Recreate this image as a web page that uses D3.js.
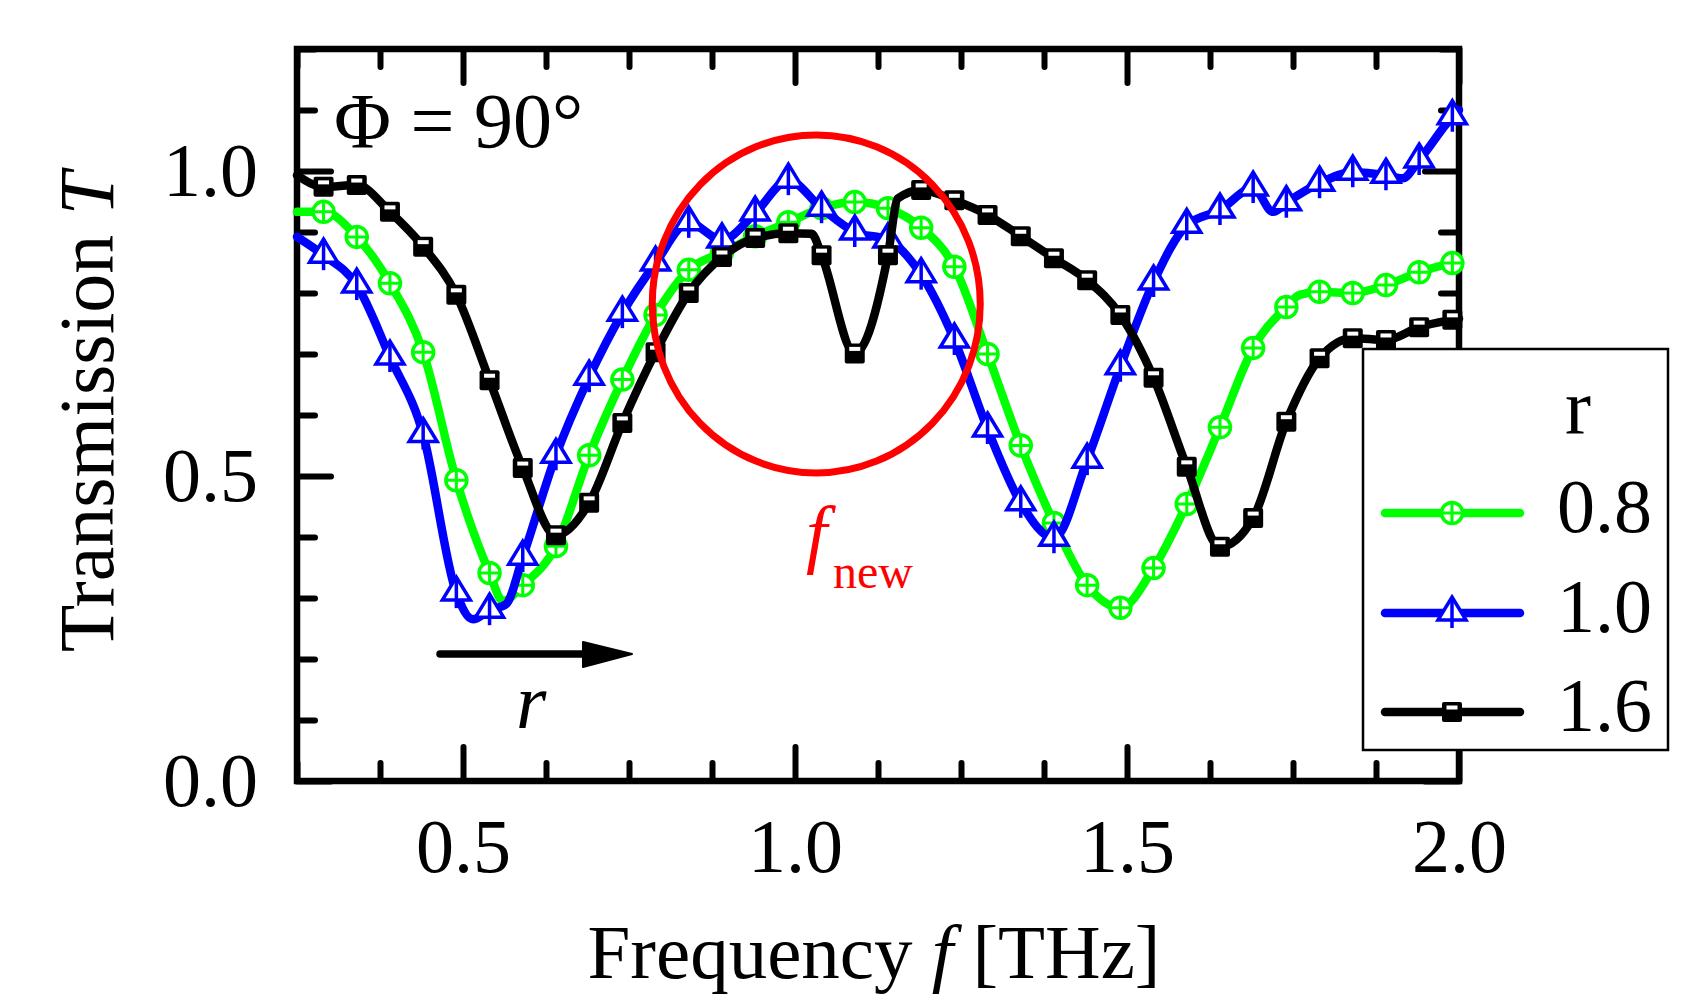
<!DOCTYPE html>
<html>
<head>
<meta charset="utf-8">
<script src="https://cdn.jsdelivr.net/npm/d3@7"></script>
<style>
  body { margin: 0; background: #fff; }
  text { font-family: "Liberation Serif", "Times New Roman", serif; fill: #000; }
</style>
</head>
<body>
<div id="chart"></div>
<script>
// marker frequencies (THz)
var freq = [0.29, 0.34, 0.39, 0.44, 0.49, 0.54, 0.59, 0.64, 0.69, 0.74, 0.79, 0.84,
            0.89, 0.94, 0.99, 1.04, 1.09, 1.14, 1.19, 1.24, 1.29, 1.34, 1.39, 1.44,
            1.49, 1.54, 1.59, 1.64, 1.69, 1.74, 1.79, 1.84, 1.89, 1.94, 1.99];

// transmission, r = 0.8
var tGreen = [0.933, 0.892, 0.816, 0.703, 0.493, 0.341, 0.321, 0.385, 0.534, 0.658, 0.764, 0.838,
              0.866, 0.893, 0.916, 0.939, 0.949, 0.939, 0.907, 0.843, 0.700, 0.550, 0.423, 0.321,
              0.284, 0.349, 0.454, 0.580, 0.710, 0.777, 0.802, 0.800, 0.813, 0.834, 0.849];
// transmission, r = 1.0
var tBlue = [0.862, 0.813, 0.695, 0.568, 0.308, 0.280, 0.367, 0.534, 0.662, 0.767, 0.849, 0.915,
             0.887, 0.931, 0.985, 0.939, 0.900, 0.887, 0.830, 0.723, 0.577, 0.456, 0.398, 0.526,
             0.679, 0.818, 0.911, 0.936, 0.972, 0.948, 0.980, 0.998, 0.993, 1.018, 1.089];
// transmission, r = 1.6
var tBlack = [0.974, 0.977, 0.933, 0.876, 0.797, 0.657, 0.513, 0.403, 0.456, 0.587, 0.703, 0.800,
              0.859, 0.890, 0.898, 0.862, 0.701, 0.862, 0.969, 0.952, 0.928, 0.893, 0.857, 0.821,
              0.764, 0.661, 0.515, 0.384, 0.431, 0.589, 0.693, 0.726, 0.723, 0.744, 0.756];

// line points between the markers
var extraGreen = [[0.25, 0.933], [0.56, 0.295], [1.76, 0.797], [2.0, 0.851]];
var extraBlue = [[0.25, 0.892], [0.515, 0.265], [0.565, 0.29], [1.72, 0.933], [1.915, 0.988], [2.0, 1.10]];
var extraBlack = [[0.25, 0.993], [1.025, 0.897], [1.155, 0.955], [2.0, 0.758]];

var seriesNames = ['0.8', '1.0', '1.6'];
var xTicks = [0.5, 1.0, 1.5, 2.0];
var yTicks = [0.0, 0.5, 1.0];

var width = 1705, height = 998;
var green = '#00ff00', blue = '#0000ff', red = '#ff0000';

var svg = d3.select('#chart').append('svg')
  .attr('width', width)
  .attr('height', height);

var x = d3.scaleLinear().domain([0.25, 2.0]).range([297, 1459]);
var y = d3.scaleLinear().domain([0, 1.2]).range([781, 49]);

// ticks (inward, all four sides)
var minorX = d3.range(0.25, 2.001, 0.125).filter(function(v) { return Math.abs(v * 2 - Math.round(v * 2)) > 1e-6 });
var minorY = d3.range(0, 1.201, 0.1).filter(function(v) { return Math.abs(v * 2 - Math.round(v * 2)) > 1e-6 });

function styleAxis(g) {
  g.select('.domain').remove();
  g.selectAll('.tick line').attr('stroke', '#000').attr('stroke-width', 6).attr('stroke-linecap', 'round');
  g.selectAll('.tick text').attr('font-size', 76).attr('font-family', '"Liberation Serif", serif').attr('fill', '#000');
}

svg.append('g').attr('transform', 'translate(0,781)')
  .call(d3.axisBottom(x).tickValues(xTicks).tickSize(-34).tickPadding(37).tickFormat(d3.format('.1f')))
  .call(styleAxis);
svg.append('g').attr('transform', 'translate(0,781)')
  .call(d3.axisBottom(x).tickValues(minorX).tickSize(-18).tickFormat(''))
  .call(styleAxis);
svg.append('g').attr('transform', 'translate(0,49)')
  .call(d3.axisTop(x).tickValues(xTicks).tickSize(-34).tickFormat(''))
  .call(styleAxis);
svg.append('g').attr('transform', 'translate(0,49)')
  .call(d3.axisTop(x).tickValues(minorX).tickSize(-18).tickFormat(''))
  .call(styleAxis);

svg.append('g').attr('transform', 'translate(297,0)')
  .call(d3.axisLeft(y).tickValues(yTicks).tickSize(-34).tickPadding(39).tickFormat(d3.format('.1f')))
  .call(styleAxis);
svg.append('g').attr('transform', 'translate(297,0)')
  .call(d3.axisLeft(y).tickValues(minorY).tickSize(-18).tickFormat(''))
  .call(styleAxis);
svg.append('g').attr('transform', 'translate(1459,0)')
  .call(d3.axisRight(y).tickValues(yTicks).tickSize(-34).tickFormat(''))
  .call(styleAxis);
svg.append('g').attr('transform', 'translate(1459,0)')
  .call(d3.axisRight(y).tickValues(minorY).tickSize(-18).tickFormat(''))
  .call(styleAxis);

// frame
svg.append('rect')
  .attr('x', x(0.25)).attr('y', y(1.2))
  .attr('width', x(2.0) - x(0.25)).attr('height', y(0) - y(1.2))
  .attr('fill', 'none').attr('stroke', '#000').attr('stroke-width', 6.5);

// markers
function addMarker(sel, kind) {
  if (kind == 'circle') {
    sel.append('circle').attr('r', 10.5).attr('fill', '#fff').attr('stroke', green).attr('stroke-width', 3.5);
    sel.append('path').attr('d', 'M-10,0H10M0,-10V10').attr('stroke', green).attr('stroke-width', 3);
  } else if (kind == 'triangle') {
    sel.append('path').attr('d', 'M0,-16L14,7L-14,7Z').attr('fill', '#fff').attr('stroke', blue).attr('stroke-width', 3.5);
    sel.append('path').attr('d', 'M0,-16V15').attr('stroke', blue).attr('stroke-width', 3.5);
  } else {
    sel.append('rect').attr('x', -10).attr('y', -10).attr('width', 20).attr('height', 20).attr('rx', 2).attr('fill', '#000');
    sel.append('rect').attr('x', -5.5).attr('y', -6.5).attr('width', 11).attr('height', 4).attr('fill', '#fff');
  }
}

var series = [
  { name: seriesNames[0], vals: tGreen, extra: extraGreen, color: green, marker: 'circle' },
  { name: seriesNames[1], vals: tBlue, extra: extraBlue, color: blue, marker: 'triangle' },
  { name: seriesNames[2], vals: tBlack, extra: extraBlack, color: '#000', marker: 'square' }
];

var line = d3.line()
  .x(function(d) { return x(d[0]) })
  .y(function(d) { return y(d[1]) })
  .curve(d3.curveMonotoneX);

series.forEach(function(s) {
  var pts = freq.map(function(f, i) { return [f, s.vals[i]] }).concat(s.extra);
  pts.sort(function(a, b) { return a[0] - b[0] });

  svg.append('path')
    .datum(pts)
    .attr('d', line)
    .attr('fill', 'none')
    .attr('stroke', s.color)
    .attr('stroke-width', 8.5)
    .attr('stroke-linejoin', 'round')
    .attr('stroke-linecap', 'round');

  svg.selectAll('.m' + s.marker)
    .data(freq.map(function(f, i) { return [f, s.vals[i]] }))
    .enter().append('g')
    .attr('class', 'm' + s.marker)
    .attr('transform', function(d) { return 'translate(' + x(d[0]) + ',' + y(d[1]) + ')' })
    .each(function() { addMarker(d3.select(this), s.marker) });
});

// red circle around the new resonance
svg.append('ellipse')
  .attr('cx', x(1.032)).attr('cy', y(0.782))
  .attr('rx', 164).attr('ry', 169)
  .attr('fill', 'none').attr('stroke', red).attr('stroke-width', 7);

var fnew = svg.append('text').attr('x', 806).attr('y', 559).style('fill', red);
fnew.append('tspan').attr('font-size', 76).attr('font-style', 'italic').style('fill', red).text('f');
fnew.append('tspan').attr('x', 833).attr('y', 588).attr('font-size', 48).style('fill', red).text('new');

// arrow with r
svg.append('line')
  .attr('x1', 440).attr('y1', 654).attr('x2', 600).attr('y2', 654)
  .attr('stroke', '#000').attr('stroke-width', 7.5).attr('stroke-linecap', 'round');
svg.append('path')
  .attr('d', 'M583,642L632,654L583,667Z')
  .attr('fill', '#000').attr('stroke', '#000').attr('stroke-width', 2).attr('stroke-linejoin', 'round');
svg.append('text').attr('x', 516).attr('y', 728)
  .attr('font-size', 78).attr('font-style', 'italic').text('r');

// phi label
svg.append('text').attr('x', 334).attr('y', 147).attr('font-size', 78).text('\u03A6 = 90\u00B0');

// axis titles
var xt = svg.append('text').attr('x', 874).attr('y', 978).attr('text-anchor', 'middle').attr('font-size', 77);
xt.append('tspan').text('Frequency ');
xt.append('tspan').attr('font-style', 'italic').text('f');
xt.append('tspan').text(' [THz]');

var yt = svg.append('text').attr('transform', 'translate(113,412) rotate(-90)')
  .attr('text-anchor', 'middle').attr('font-size', 78);
yt.append('tspan').text('Transmission ');
yt.append('tspan').attr('font-style', 'italic').text('T');

// legend
var leg = svg.append('g');
leg.append('rect')
  .attr('x', 1363).attr('y', 349).attr('width', 305).attr('height', 401)
  .attr('fill', '#fff').attr('stroke', '#000').attr('stroke-width', 2.5);
leg.append('text').attr('x', 1565).attr('y', 433).attr('font-size', 78).text('r');

var rowY = [513, 613, 712];
series.forEach(function(s, i) {
  leg.append('line')
    .attr('x1', 1385).attr('x2', 1520).attr('y1', rowY[i]).attr('y2', rowY[i])
    .attr('stroke', s.color).attr('stroke-width', 8.5).attr('stroke-linecap', 'round');
  addMarker(leg.append('g').attr('transform', 'translate(1452,' + rowY[i] + ')'), s.marker);
  leg.append('text').attr('x', 1557).attr('y', rowY[i] + 19).attr('font-size', 76).text(s.name);
});
</script>
</body>
</html>
